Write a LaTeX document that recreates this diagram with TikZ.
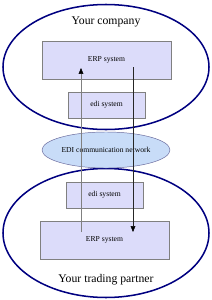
\documentclass[tikz,border=0pt]{standalone}
\usepackage{fontspec}
\setmainfont{Liberation Serif}
\usetikzlibrary{arrows.meta,shapes.geometric}

\definecolor{boxfill}{HTML}{DCDCFA}
\definecolor{netfill}{HTML}{C8DCF8}
\definecolor{orgline}{HTML}{000080}

\tikzset{
  org/.style={draw=orgline, line width=1.3pt, ellipse, inner sep=0pt},
  sysbox/.style={draw=gray, fill=boxfill, inner sep=0pt, font=\fontsize{6.5}{7}\selectfont},
  network/.style={draw=gray!80!blue, fill=netfill, ellipse, inner sep=0pt, font=\fontsize{6.5}{7}\selectfont},
  flow/.style={-{Triangle[width=4pt,length=5pt,black]}},
}

\begin{document}
\begin{tikzpicture}[x=0.03cm, y=-0.03cm]
  \useasboundingbox (0,0) rectangle (211,300);

  \node [org, minimum width=206*0.03cm, minimum height=125*0.03cm] (top) at (106,67) {};
  \node [org, minimum width=206*0.03cm, minimum height=129*0.03cm] (bot) at (106,233) {};

  \node [font=\fontsize{10}{12}\selectfont] (company) at (106,22) {Your company};
  \node [font=\fontsize{10}{12}\selectfont] (partner) at (106,280) {Your trading partner};

  \node [sysbox, minimum width=129*0.03cm, minimum height=38*0.03cm] (erpA) at (106.5,60) {ERP system};
  \node [sysbox, minimum width=77*0.03cm, minimum height=26*0.03cm] (ediA) at (106.5,105) {edi system};

  \node [network, minimum width=128*0.03cm, minimum height=36*0.03cm] (net) at (106,150) {EDI communication network};

  \node [sysbox, minimum width=77*0.03cm, minimum height=26*0.03cm] (ediB) at (104.5,195) {edi system};
  \node [sysbox, minimum width=129*0.03cm, minimum height=38*0.03cm] (erpB) at (104.5,240) {ERP system};

  \coordinate (upS) at (81,232);
  \coordinate (upE) at (81,68);
  \coordinate (dnS) at (133,67);
  \coordinate (dnE) at (133,232);

  \draw [flow, gray] (upS) -- (upE);
  \draw [flow, black!85] (dnS) -- (dnE);
\end{tikzpicture}
\end{document}
